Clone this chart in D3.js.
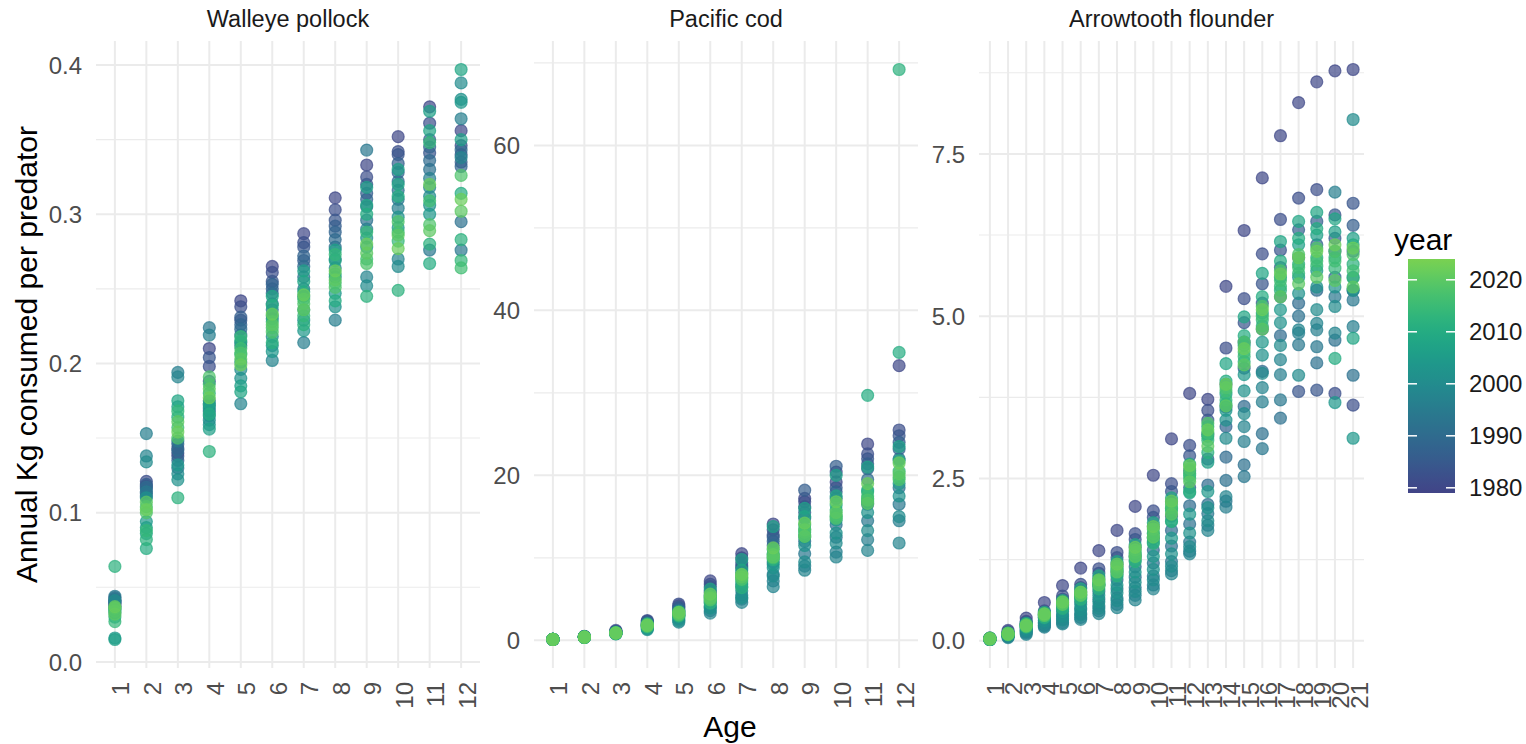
<!DOCTYPE html>
<html>
<head>
<meta charset="utf-8">
<script src="https://cdn.jsdelivr.net/npm/d3@7"></script>
<style>
  body { margin: 0; background: #fff; }
  svg { display: block; font-family: "Liberation Sans", Arial, sans-serif; }
</style>
</head>
<body>
<svg id="chart" width="1526" height="744"></svg>
<script>
// survey years shown (every second year), in drawing order
const years = [1980, 1982, 1984, 1986, 1988, 1990, 1992, 1994, 1996, 1998, 2000,
               2002, 2004, 2006, 2008, 2010, 2012, 2014, 2016, 2018, 2020, 2022];

const pollockAges = [1, 2, 3, 4, 5, 6, 7, 8, 9, 10, 11, 12];
const codAges = [1, 2, 3, 4, 5, 6, 7, 8, 9, 10, 11, 12];
const arrowtoothAges = [1, 2, 3, 4, 5, 6, 7, 8, 9, 10, 11, 12, 13, 14, 15, 16, 17, 18, 19, 20, 21];

// kg consumed per predator, one row per age, one column per year above
const pollockKg = [
  [.038, .040, .041, .039, .042, .043, .040, .044, .037, .035, .041, .033, .016, .015, .036, .030, .064, .027, .034, .036, .032, .037],
  [.118, .121, .116, .119, .113, .117, .111, .114, .153, .138, .134, .110, .094, .090, .086, .076, .082, .088, .104, .100, .107, .102],
  [.140, .143, .138, .146, .135, .142, .130, .148, .194, .191, .126, .122, .132, .171, .175, .164, .110, .168, .157, .150, .161, .154],
  [.210, .198, .204, .188, .172, .168, .175, .224, .219, .165, .162, .159, .170, .156, .173, .166, .141, .180, .186, .191, .183, .177],
  [.242, .238, .229, .231, .226, .223, .219, .214, .212, .173, .196, .190, .201, .185, .181, .215, .206, .218, .210, .207, .203, .199],
  [.265, .261, .255, .250, .253, .247, .240, .236, .230, .202, .218, .212, .208, .232, .245, .239, .214, .228, .224, .221, .226, .233],
  [.287, .281, .278, .269, .272, .265, .258, .250, .214, .245, .236, .229, .222, .262, .255, .248, .226, .232, .243, .240, .236, .246],
  [.311, .303, .296, .292, .288, .283, .278, .270, .229, .264, .258, .238, .247, .276, .269, .242, .260, .273, .254, .251, .256, .262],
  [.333, .325, .320, .314, .310, .305, .296, .343, .290, .258, .252, .284, .278, .318, .306, .300, .245, .288, .270, .267, .274, .280],
  [.352, .342, .340, .334, .328, .322, .316, .310, .304, .270, .265, .298, .291, .330, .320, .312, .249, .282, .288, .295, .286, .277],
  [.372, .361, .341, .350, .345, .336, .330, .276, .324, .318, .312, .306, .300, .369, .356, .267, .280, .348, .309, .293, .289, .320],
  [.356, .346, .340, .335, .332, .343, .295, .276, .364, .338, .388, .377, .375, .350, .397, .314, .283, .269, .264, .326, .302, .310]
];

const codKg = [
  [0.10, 0.11, 0.12, 0.10, 0.11, 0.12, 0.13, 0.12, 0.11, 0.10, 0.12, 0.13, 0.11, 0.10, 0.12, 0.11, 0.10, 0.12, 0.11, 0.10, 0.12, 0.11],
  [0.45, 0.48, 0.42, 0.40, 0.44, 0.38, 0.36, 0.41, 0.39, 0.35, 0.43, 0.37, 0.40, 0.34, 0.38, 0.42, 0.36, 0.39, 0.41, 0.37, 0.40, 0.38],
  [1.1, 1.2, 1.0, 1.05, 0.95, 0.9, 1.0, 0.85, 0.92, 0.8, 0.88, 0.95, 0.78, 0.86, 0.9, 0.82, 0.93, 0.85, 0.9, 0.87, 0.92, 0.88],
  [2.3, 2.4, 2.1, 2.2, 2.0, 1.9, 2.1, 1.7, 1.8, 1.4, 1.6, 1.3, 1.5, 1.9, 1.7, 1.6, 2.0, 1.8, 1.9, 1.7, 1.8, 1.85],
  [4.2, 4.4, 3.9, 4.0, 3.6, 3.7, 3.3, 3.0, 2.6, 2.2, 2.8, 2.4, 3.1, 3.5, 2.9, 3.2, 3.4, 3.0, 3.3, 3.1, 3.2, 3.4],
  [7.2, 6.8, 6.5, 6.0, 5.8, 5.5, 4.6, 4.0, 3.6, 3.3, 4.2, 3.9, 4.8, 5.4, 6.2, 5.2, 4.5, 5.0, 5.3, 4.9, 5.1, 5.6],
  [10.5, 10.0, 9.4, 8.8, 9.0, 8.2, 6.5, 5.5, 5.0, 4.6, 6.0, 5.2, 6.8, 9.8, 8.5, 7.2, 6.4, 7.6, 7.9, 7.4, 7.7, 8.0],
  [14.1, 13.4, 12.8, 12.5, 12.0, 11.5, 9.5, 8.0, 7.2, 6.5, 7.8, 8.8, 9.2, 13.8, 11.0, 10.5, 9.8, 10.2, 10.0, 10.4, 10.1, 11.2],
  [17.2, 16.8, 16.2, 18.2, 15.5, 14.8, 12.0, 10.5, 9.0, 8.5, 9.5, 11.5, 12.5, 16.0, 15.0, 14.0, 13.5, 12.8, 13.1, 13.4, 12.6, 14.2],
  [19.2, 20.4, 18.5, 21.1, 18.0, 17.2, 14.0, 12.5, 10.7, 10.1, 11.8, 13.0, 14.6, 20.0, 17.5, 16.4, 15.8, 15.0, 15.2, 14.8, 15.5, 16.8],
  [23.8, 22.6, 22.0, 21.4, 20.8, 19.5, 16.5, 14.5, 12.2, 10.9, 13.3, 15.5, 16.8, 21.0, 18.2, 29.7, 18.0, 17.2, 17.5, 17.0, 16.6, 19.0],
  [33.3, 25.5, 24.8, 24.0, 23.2, 22.0, 18.5, 16.5, 14.5, 11.8, 15.0, 17.5, 19.0, 23.5, 21.8, 34.9, 69.2, 20.5, 19.8, 19.5, 20.2, 21.5]
];

const arrowtoothKg = [
  [0.04, 0.03, 0.03, 0.04, 0.03, 0.02, 0.03, 0.02, 0.03, 0.02, 0.03, 0.03, 0.02, 0.03, 0.04, 0.03, 0.03, 0.02, 0.03, 0.04, 0.03, 0.03],
  [0.16, 0.14, 0.12, 0.11, 0.10, 0.09, 0.08, 0.07, 0.06, 0.05, 0.08, 0.09, 0.10, 0.11, 0.12, 0.10, 0.09, 0.11, 0.10, 0.12, 0.11, 0.10],
  [0.35, 0.30, 0.28, 0.26, 0.24, 0.20, 0.16, 0.14, 0.12, 0.10, 0.15, 0.18, 0.22, 0.25, 0.27, 0.24, 0.21, 0.23, 0.22, 0.25, 0.24, 0.23],
  [0.59, 0.46, 0.43, 0.40, 0.36, 0.32, 0.28, 0.24, 0.21, 0.23, 0.27, 0.31, 0.35, 0.39, 0.44, 0.38, 0.36, 0.41, 0.40, 0.42, 0.39, 0.41],
  [0.85, 0.69, 0.64, 0.60, 0.54, 0.48, 0.40, 0.34, 0.28, 0.26, 0.32, 0.38, 0.45, 0.52, 0.62, 0.55, 0.50, 0.58, 0.57, 0.59, 0.56, 0.60],
  [1.12, 0.87, 0.82, 0.76, 0.68, 0.60, 0.50, 0.42, 0.36, 0.33, 0.40, 0.48, 0.56, 0.66, 0.80, 0.70, 0.64, 0.72, 0.71, 0.74, 0.70, 0.75],
  [1.39, 1.11, 1.04, 0.96, 0.86, 0.76, 0.64, 0.54, 0.46, 0.42, 0.50, 0.60, 0.70, 0.84, 1.00, 0.88, 0.80, 0.87, 0.90, 0.92, 0.86, 0.94],
  [1.70, 1.36, 1.28, 1.18, 1.06, 0.94, 0.80, 0.66, 0.56, 0.51, 0.62, 0.74, 0.86, 1.02, 1.22, 1.10, 1.00, 1.08, 1.12, 1.15, 1.06, 1.18],
  [2.07, 1.65, 1.56, 1.44, 1.30, 1.14, 0.98, 0.82, 0.70, 0.63, 0.76, 0.90, 1.06, 1.24, 1.48, 1.34, 1.22, 1.29, 1.36, 1.40, 1.30, 1.44],
  [2.55, 2.00, 1.90, 1.76, 1.58, 1.40, 1.20, 1.00, 0.86, 0.80, 0.94, 1.10, 1.30, 1.52, 1.82, 1.66, 1.50, 1.59, 1.65, 1.72, 1.60, 1.76],
  [3.11, 2.42, 2.30, 2.14, 1.92, 1.70, 1.46, 1.22, 1.08, 1.03, 1.15, 1.34, 1.58, 1.84, 2.20, 2.04, 1.84, 2.00, 2.05, 2.10, 1.95, 2.15],
  [3.81, 3.01, 2.85, 2.62, 2.36, 2.08, 1.80, 1.52, 1.38, 1.34, 1.45, 1.66, 1.95, 2.28, 2.72, 2.55, 2.30, 2.50, 2.58, 2.65, 2.45, 2.70],
  [3.72, 3.55, 3.40, 3.18, 2.80, 2.40, 2.10, 1.96, 1.78, 1.70, 1.85, 2.05, 2.30, 2.75, 3.30, 3.15, 2.90, 3.09, 3.20, 3.35, 3.00, 3.25],
  [5.46, 4.51, 3.95, 3.60, 3.30, 2.83, 2.47, 2.15, 2.06, 2.22, 3.12, 3.40, 3.55, 3.80, 4.27, 4.00, 3.65, 3.71, 3.85, 3.90, 3.62, 3.95],
  [6.32, 5.27, 4.90, 4.60, 4.20, 3.61, 2.71, 2.53, 3.07, 3.30, 3.50, 3.85, 4.10, 4.55, 4.99, 4.70, 4.30, 4.38, 4.45, 4.60, 4.25, 4.50],
  [7.13, 5.96, 5.50, 5.20, 4.80, 4.15, 3.19, 2.96, 3.68, 3.90, 4.12, 4.40, 4.60, 5.05, 5.66, 5.30, 4.85, 4.94, 5.00, 5.15, 4.80, 5.10],
  [7.78, 6.49, 6.02, 5.75, 5.30, 4.70, 3.43, 3.71, 4.10, 4.33, 4.55, 4.90, 5.10, 5.60, 6.15, 5.85, 5.40, 5.46, 5.55, 5.70, 5.30, 5.65],
  [8.29, 6.82, 3.84, 6.33, 5.90, 5.20, 5.00, 4.56, 4.74, 4.79, 4.09, 5.35, 5.60, 6.10, 6.46, 6.20, 5.80, 5.66, 5.75, 5.95, 5.50, 5.90],
  [8.61, 6.95, 3.86, 6.46, 6.10, 5.40, 4.28, 4.53, 4.79, 4.89, 5.10, 5.45, 5.70, 6.25, 6.60, 6.35, 5.90, 5.77, 5.85, 6.05, 5.60, 6.00],
  [8.78, 3.81, 6.56, 6.20, 6.00, 5.60, 4.63, 5.30, 6.91, 4.74, 5.15, 5.45, 3.67, 6.30, 6.50, 4.35, 5.90, 5.74, 5.85, 6.00, 5.55, 6.10],
  [8.80, 3.63, 6.74, 6.40, 6.00, 5.40, 4.09, 5.25, 4.84, 5.60, 8.03, 5.40, 3.12, 6.20, 4.66, 6.10, 5.80, 5.59, 5.70, 5.95, 5.45, 6.05]
];

const pollockTicks = [0, 0.1, 0.2, 0.3, 0.4];
const codTicks = [0, 20, 40, 60];
const arrowtoothTicks = [0, 2.5, 5, 7.5];
const legendTicks = [1980, 1990, 2000, 2010, 2020];
const yearDomain = [1979, 2024];

const svg = d3.select("#chart");
const panelTop = 41, panelBottom = 668;
const gridColor = "#ebebeb";

// viridis, trimmed like the original colour bar
const colorT = d3.scaleLinear().domain(yearDomain).range([0.2, 0.8]);
const color = yr => d3.interpolateViridis(colorT(yr));

const panels = [
  { title: "Walleye pollock", ages: pollockAges, kg: pollockKg, ticks: pollockTicks, fmt: d3.format(".1f"), x0: 96, x1: 480 },
  { title: "Pacific cod", ages: codAges, kg: codKg, ticks: codTicks, fmt: d3.format("d"), x0: 534, x1: 918 },
  { title: "Arrowtooth flounder", ages: arrowtoothAges, kg: arrowtoothKg, ticks: arrowtoothTicks, fmt: d3.format(".1f"), x0: 979, x1: 1364 }
];

panels.forEach(p => {
  const points = [];
  p.ages.forEach((age, i) => {
    years.forEach((yr, j) => points.push({ age, year: yr, kg: p.kg[i][j] }));
  });
  points.sort((a, b) => a.year - b.year);

  // ggplot-style 5% expansion of the data range
  const [lo, hi] = d3.extent(points, d => d.kg);
  const pad = (hi - lo) * 0.05;
  const y = d3.scaleLinear().domain([lo - pad, hi + pad]).range([panelBottom, panelTop]);
  const x = d3.scalePoint().domain(p.ages).range([p.x0, p.x1]).padding(0.6);

  const step = p.ticks[1] - p.ticks[0];
  const minor = d3.range(p.ticks[0] - step / 2, hi + pad, step).filter(v => v > lo - pad && v < hi + pad);

  const g = svg.append("g");

  g.selectAll(".minor").data(minor).enter().append("line")
    .attr("x1", p.x0).attr("x2", p.x1)
    .attr("y1", d => y(d)).attr("y2", d => y(d))
    .attr("stroke", gridColor).attr("stroke-width", 1.1);

  g.selectAll(".major").data(p.ticks).enter().append("line")
    .attr("x1", p.x0).attr("x2", p.x1)
    .attr("y1", d => y(d)).attr("y2", d => y(d))
    .attr("stroke", gridColor).attr("stroke-width", 2);

  g.selectAll(".vgrid").data(p.ages).enter().append("line")
    .attr("x1", d => x(d)).attr("x2", d => x(d))
    .attr("y1", panelTop).attr("y2", panelBottom)
    .attr("stroke", gridColor).attr("stroke-width", 2);

  g.selectAll(".ylab").data(p.ticks).enter().append("text")
    .attr("x", p.x0 - 14).attr("y", d => y(d)).attr("dy", "0.36em")
    .attr("text-anchor", "end").attr("font-size", 24).attr("fill", "#4d4d4d")
    .text(p.fmt);

  g.selectAll(".xlab").data(p.ages).enter().append("text")
    .attr("transform", d => `translate(${x(d)},${panelBottom + 14}) rotate(-90)`)
    .attr("dy", "0.6em")
    .attr("text-anchor", "end").attr("font-size", 24).attr("fill", "#4d4d4d")
    .text(d => d);

  g.append("text")
    .attr("x", (p.x0 + p.x1) / 2).attr("y", 27)
    .attr("text-anchor", "middle").attr("font-size", 23.5).attr("fill", "#1a1a1a")
    .text(p.title);

  g.selectAll("circle").data(points).enter().append("circle")
    .attr("cx", d => x(d.age)).attr("cy", d => y(d.kg)).attr("r", 6)
    .attr("fill", d => color(d.year)).attr("fill-opacity", 0.7)
    .attr("stroke", d => color(d.year)).attr("stroke-opacity", 0.7).attr("stroke-width", 1.2);
});

// axis titles
svg.append("text")
  .attr("x", 730).attr("y", 737)
  .attr("text-anchor", "middle").attr("font-size", 30).attr("fill", "#000")
  .text("Age");

svg.append("text")
  .attr("transform", `translate(37,${(panelTop + panelBottom) / 2}) rotate(-90)`)
  .attr("text-anchor", "middle").attr("font-size", 30).attr("fill", "#000")
  .text("Annual Kg consumed per predator");

// colour bar legend
const legendY = d3.scaleLinear().domain(yearDomain).range([493, 259]);
const barX = 1408, barW = 47;

const grad = svg.append("defs").append("linearGradient")
  .attr("id", "yearGrad").attr("x1", 0).attr("y1", 1).attr("x2", 0).attr("y2", 0);
grad.selectAll("stop").data(d3.range(0, 1.0001, 0.05)).enter().append("stop")
  .attr("offset", d => d)
  .attr("stop-color", d => color(yearDomain[0] + d * (yearDomain[1] - yearDomain[0])));

svg.append("text")
  .attr("x", 1394).attr("y", 250)
  .attr("font-size", 30).attr("fill", "#000")
  .text("year");

svg.append("rect")
  .attr("x", barX).attr("y", legendY(yearDomain[1]))
  .attr("width", barW).attr("height", legendY(yearDomain[0]) - legendY(yearDomain[1]))
  .attr("fill", "url(#yearGrad)");

const lt = svg.append("g").selectAll("g").data(legendTicks).enter().append("g");
lt.append("line")
  .attr("x1", barX).attr("x2", barX + 9)
  .attr("y1", d => legendY(d)).attr("y2", d => legendY(d))
  .attr("stroke", "#fff").attr("stroke-width", 1.5);
lt.append("line")
  .attr("x1", barX + barW - 9).attr("x2", barX + barW)
  .attr("y1", d => legendY(d)).attr("y2", d => legendY(d))
  .attr("stroke", "#fff").attr("stroke-width", 1.5);
lt.append("text")
  .attr("x", barX + barW + 14).attr("y", d => legendY(d)).attr("dy", "0.36em")
  .attr("font-size", 24).attr("fill", "#1a1a1a")
  .text(d => d);
</script>
</body>
</html>
